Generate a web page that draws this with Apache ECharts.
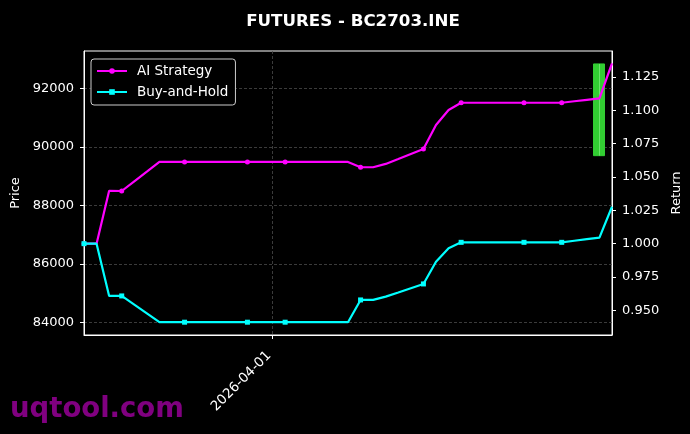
<!DOCTYPE html>
<html><head><meta charset="utf-8">
<script src="https://cdn.jsdelivr.net/npm/echarts@6/dist/echarts.min.js"></script>
<style>html,body{margin:0;padding:0;background:#000;} #c{width:690px;height:434px;}</style>
</head><body><div id="c"></div>
<script>
const times = [
  '2026-03-31 16:30','2026-03-31 17:00','2026-03-31 17:30','2026-03-31 18:00','2026-03-31 18:30',
  '2026-03-31 19:00','2026-03-31 19:30','2026-03-31 20:00','2026-03-31 20:30','2026-03-31 21:00',
  '2026-03-31 21:30','2026-03-31 22:00','2026-03-31 22:30','2026-03-31 23:00','2026-03-31 23:30',
  '2026-04-01 00:00','2026-04-01 00:30','2026-04-01 01:00','2026-04-01 01:30','2026-04-01 02:00',
  '2026-04-01 02:30','2026-04-01 03:00','2026-04-01 03:30','2026-04-01 04:00','2026-04-01 04:30',
  '2026-04-01 05:00','2026-04-01 05:30','2026-04-01 06:00','2026-04-01 06:30','2026-04-01 07:00',
  '2026-04-01 07:30','2026-04-01 08:00','2026-04-01 08:30','2026-04-01 09:00','2026-04-01 09:30',
  '2026-04-01 10:00','2026-04-01 10:30','2026-04-01 11:00','2026-04-01 11:30','2026-04-01 12:00',
  '2026-04-01 12:30','2026-04-01 13:00','2026-04-01 13:30'
];
const aiStrategy = [
  1.0000, 1.0000, 1.0397, 1.0395, 1.0468, 1.0540, 1.0613, 1.0613, 1.0613, 1.0613,
  1.0613, 1.0613, 1.0613, 1.0613, 1.0613, 1.0613, 1.0613, 1.0613, 1.0613, 1.0613,
  1.0613, 1.0613, 1.0573, 1.0573, 1.0598, 1.0635, 1.0673, 1.0710, 1.0890, 1.1003,
  1.1057, 1.1057, 1.1057, 1.1057, 1.1057, 1.1057, 1.1057, 1.1057, 1.1057, 1.1068,
  1.1079, 1.1090, 1.1353
];
const buyHold = [
  1.0000, 1.0000, 0.9608, 0.9608, 0.9543, 0.9477, 0.9411, 0.9411, 0.9411, 0.9411,
  0.9411, 0.9411, 0.9411, 0.9411, 0.9411, 0.9411, 0.9411, 0.9411, 0.9411, 0.9411,
  0.9411, 0.9411, 0.9578, 0.9578, 0.9603, 0.9634, 0.9666, 0.9698, 0.9865, 0.9966,
  1.0010, 1.0010, 1.0010, 1.0010, 1.0010, 1.0010, 1.0010, 1.0010, 1.0010, 1.0022,
  1.0034, 1.0045, 1.0277
];
const markerSteps = [0, 3, 8, 13, 16, 22, 27, 30, 35, 38];
const candleTimes = ['2026-04-01 13:00'];
const candleOpen = [89700];
const candleClose = [92830];
const candleLow = [89700];
const candleHigh = [92830];
const priceTicks = [84000, 86000, 88000, 90000, 92000];
const returnTicks = [0.950, 0.975, 1.000, 1.025, 1.050, 1.075, 1.100, 1.125];
const dateTicks = ['2026-04-01 00:00'];

function toMs(s) {
  const [d, t] = s.split(' ');
  const [Y, M, D] = d.split('-').map(Number);
  const [h, m] = t.split(':').map(Number);
  return Date.UTC(Y, M - 1, D, h, m);
}
function pad(n) { return (n < 10 ? '0' : '') + n; }
function fmtDate(v) {
  const d = new Date(v);
  return d.getUTCFullYear() + '-' + pad(d.getUTCMonth() + 1) + '-' + pad(d.getUTCDate());
}
const FONT = 'DejaVu Sans';
const candleData = candleTimes.map((t, i) => [toMs(t), candleOpen[i], candleClose[i], candleLow[i], candleHigh[i]]);

const chart = echarts.init(document.getElementById('c'), null, {renderer: 'canvas'});
chart.setOption({
  animation: false,
  backgroundColor: '#000',
  textStyle: {fontFamily: FONT},
  title: {
    text: 'FUTURES - BC2703.INE', left: 348, top: 8, textAlign: 'center',
    textStyle: {color: '#fff', fontSize: 16.67, fontWeight: 'bold', fontFamily: FONT}
  },
  grid: {left: 84, right: 78, top: 51, bottom: 99, show: true, borderColor: '#fff', borderWidth: 1,
    containLabel: false, outerBoundsMode: 'none'},
  legend: {
    data: ['AI Strategy', 'Buy-and-Hold'], orient: 'vertical', left: 91, top: 59,
    padding: [5, 7, 6, 5], itemWidth: 30, itemHeight: 7, itemGap: 7,
    backgroundColor: '#000', borderColor: '#cccccc', borderWidth: 1, borderRadius: 3,
    textStyle: {color: '#fff', fontSize: 13.5, fontFamily: FONT, padding: [0, 0, 0, 5]}
  },
  xAxis: {
    type: 'value', min: toMs(times[0]), max: toMs(times[times.length - 1]),
    axisLine: {show: true, onZero: false, lineStyle: {color: '#fff'}},
    axisTick: {show: true, length: 4, lineStyle: {color: '#fff'}, customValues: dateTicks.map(toMs)},
    axisLabel: {color: '#fff', fontSize: 13.5, fontFamily: FONT, rotate: 45, margin: 15,
      padding: [0, 5, 0, 0], customValues: dateTicks.map(toMs), formatter: fmtDate},
    splitLine: {show: true, lineStyle: {color: '#4a4a4a', type: [3, 2], width: 0.8}}
  },
  yAxis: [
    {
      type: 'value', position: 'left', min: 83581, max: 93271,
      name: 'Price', nameLocation: 'middle', nameGap: 57,
      nameTextStyle: {color: '#fff', fontSize: 13, fontFamily: FONT},
      axisLine: {show: true, lineStyle: {color: '#fff'}},
      axisTick: {show: true, length: 4, lineStyle: {color: '#fff'}, customValues: priceTicks},
      axisLabel: {color: '#fff', fontSize: 13, fontFamily: FONT, margin: 10, customValues: priceTicks,
        formatter: v => String(Math.round(v))},
      splitLine: {show: true, lineStyle: {color: '#4a4a4a', type: [3, 2], width: 0.8}}
    },
    {
      type: 'value', position: 'right', min: 0.9315, max: 1.1445,
      name: 'Return', nameLocation: 'middle', nameGap: 50,
      nameTextStyle: {color: '#fff', fontSize: 13, fontFamily: FONT},
      axisLine: {show: true, lineStyle: {color: '#fff'}},
      axisTick: {show: true, length: 4, lineStyle: {color: '#fff'}, customValues: returnTicks},
      axisLabel: {color: '#fff', fontSize: 13, fontFamily: FONT, margin: 10, customValues: returnTicks,
        formatter: v => v.toFixed(3)},
      splitLine: {show: false}
    }
  ],
  series: [
    {
      type: 'candlestick', xAxisIndex: 0, yAxisIndex: 0, data: candleData, barWidth: 11.5, z: 1,
      itemStyle: {color: '#32cd32', borderColor: '#32cd32', borderWidth: 1, color0: '#ff3333', borderColor0: '#ff3333'},
      silent: true
    },
    {
      type: 'candlestick', xAxisIndex: 0, yAxisIndex: 0, data: candleData, barWidth: 1, z: 1,
      itemStyle: {color: '#8ff58f', borderColor: '#8ff58f', borderWidth: 0.6, color0: '#ff8888', borderColor0: '#ff8888'},
      silent: true
    },
    {
      name: 'AI Strategy', type: 'line', yAxisIndex: 1, z: 3,
      data: times.map((t, i) => [toMs(t), aiStrategy[i]]),
      symbol: 'circle', showSymbol: true,
      symbolSize: (v, p) => markerSteps.includes(p.dataIndex) ? 5 : 0,
      lineStyle: {color: '#ff00ff', width: 2.2}, itemStyle: {color: '#ff00ff'}
    },
    {
      name: 'Buy-and-Hold', type: 'line', yAxisIndex: 1, z: 4,
      data: times.map((t, i) => [toMs(t), buyHold[i]]),
      symbol: 'rect', showSymbol: true,
      symbolSize: (v, p) => markerSteps.includes(p.dataIndex) ? 5 : 0,
      lineStyle: {color: '#00ffff', width: 2.2}, itemStyle: {color: '#00ffff'}
    }
  ],
  graphic: [
    {type: 'text', left: 10, top: 396, z: 100,
      style: {text: 'uqtool.com', fill: '#800080', font: 'bold 27.5px "DejaVu Sans"'}}
  ]
});
</script></body></html>
